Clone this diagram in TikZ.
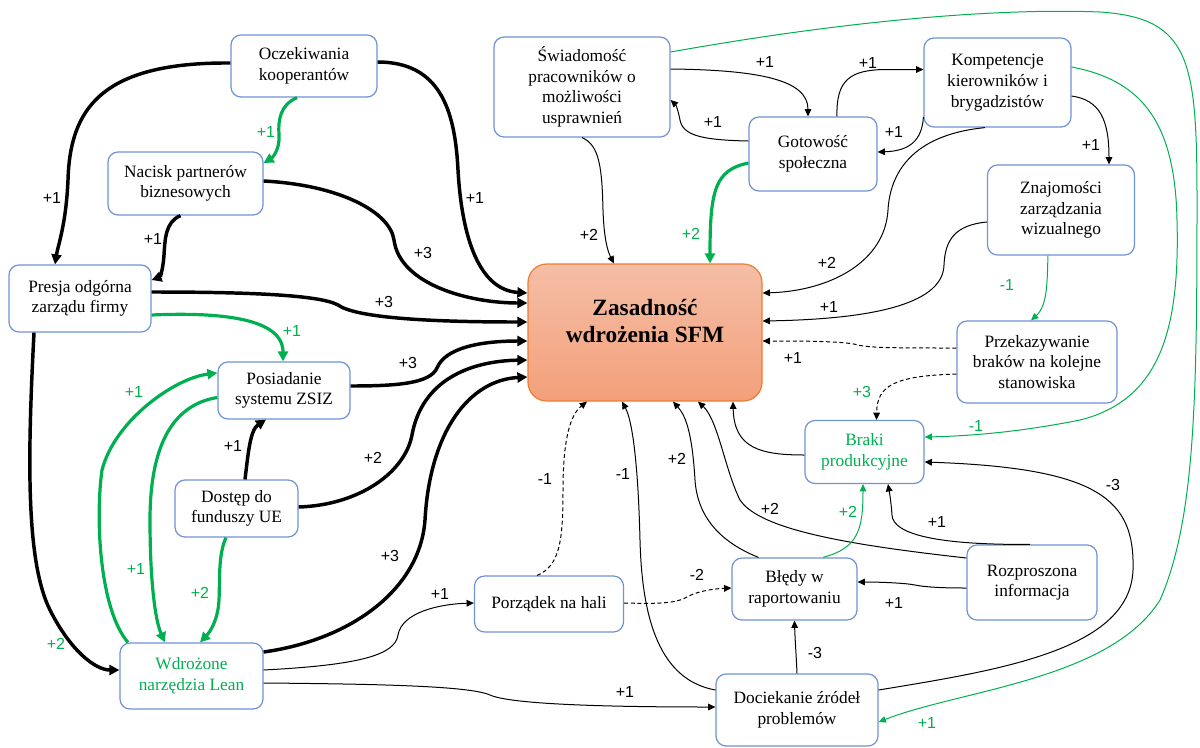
\documentclass[tikz,border=0pt]{standalone}
\usepackage{fontspec}
\setmainfont{Liberation Serif}
\newfontfamily\lblfont{Liberation Sans}
\usetikzlibrary{arrows.meta,calc}

\definecolor{boxblue}{RGB}{112,146,214}
\definecolor{lgreen}{RGB}{0,176,80}
\definecolor{sfmtop}{RGB}{245,190,166}
\definecolor{sfmbot}{RGB}{243,160,122}
\definecolor{sfmline}{RGB}{237,125,49}

\tikzset{
  box/.style={draw=boxblue, line width=0.9pt, rounded corners=7.5pt, fill=white,
    align=center, inner sep=2pt, font=\fontsize{13}{15.5}\selectfont},
  sz/.style 2 args={minimum width=#1*0.75pt, minimum height=#2*0.75pt},
  gtext/.style={text=lgreen},
  mainbox/.style={draw=sfmline, line width=0.9pt, rounded corners=14pt,
    top color=sfmtop, bottom color=sfmbot},
  maintext/.style={align=center, inner sep=0pt,
    font=\fontsize{17.5}{20.5}\selectfont\bfseries},
  blk3/.style={line width=2.6pt, -{Triangle[length=7.5pt,width=7.5pt]}},
  grn3/.style={draw=lgreen, line width=2.4pt, -{Triangle[length=7.5pt,width=7.5pt]}},
  blk1/.style={line width=0.75pt, -{Triangle[length=5.5pt,width=5pt]}},
  grn1/.style={draw=lgreen, line width=0.75pt, -{Triangle[length=5.5pt,width=5pt]}},
  dsh/.style={blk1, dash pattern=on 3pt off 2pt},
  lbl/.style={font=\lblfont\fontsize{12}{14}\selectfont, inner sep=0pt},
  glbl/.style={lbl, text=lgreen},
}

\begin{document}
\begin{tikzpicture}[x=0.75pt,y=-0.75pt]
\useasboundingbox (0,0) rectangle (1200,747);

% factor boxes
\node[box, sz={146}{62}]  (oc) at (304,66)    {Oczekiwania\\kooperantów};
\node[box, sz={155}{63}]  (np) at (185.5,183.5) {Nacisk partnerów\\biznesowych};
\node[box, sz={142}{67}]  (pr) at (80,298.5)  {Presja odgórna\\zarządu firmy};
\node[box, sz={132}{57}]  (ps) at (284,390.5) {Posiadanie\\systemu ZSIZ};
\node[box, sz={123}{57}]  (fu) at (236.5,508.5) {Dostęp do\\funduszy UE};
\node[box, gtext, sz={143}{66}] (wl) at (191.5,676) {Wdrożone\\narzędzia Lean};
\node[box, sz={176}{100}] (sw) at (582,87)    {Świadomość\\pracowników o\\możliwości\\usprawnień};
\node[box, sz={128}{74}]  (gs) at (813,154)   {Gotowość\\społeczna};
\node[box, sz={147}{89}]  (kb) at (997.5,82.5) {Kompetencje\\kierowników i\\brygadzistów};
\node[box, sz={147}{90}]  (zw) at (1061,210)  {Znajomości\\zarządzania\\wizualnego};
\node[box, sz={160}{82}]  (pk) at (1037,362)  {Przekazywanie\\braków na kolejne\\stanowiska};
\node[box, gtext, sz={119}{63}] (bp) at (864.5,452) {Braki\\produkcyjne};
\node[box, sz={149}{56}]  (ph) at (549,604)   {Porządek na hali};
\node[box, sz={125}{62}]  (br) at (794.5,589) {Błędy w\\raportowaniu};
\node[box, sz={130}{75}]  (ri) at (1032,582.5) {Rozproszona\\informacja};
\node[box, sz={162}{72}]  (dz) at (797,710)   {Dociekanie źródeł\\problemów};

% central outcome, title set a little above the middle
\node[mainbox, sz={234}{137}] (sfm) at (645,332.5) {};
\node[maintext] (sfmtitle) at (645,321) {Zasadność\\wdrożenia SFM};

% strong links (thick black)
\draw[blk3] ($(oc.west)+(0,-3)$) .. controls (100,62) and (70,110) .. (68,180) .. controls (66,225) and (58,245) .. ($(pr.north)+(-25,0)$);
\draw[blk3] ($(oc.east)+(0,-4)$) .. controls (440,62) and (455,110) .. (458,170) .. controls (462,240) and (480,290) .. ($(sfm.west)+(0,-39.5)$);
\draw[blk3] ($(np.east)+(0,-2.5)$) .. controls (340,185) and (390,212) .. (394,240) .. controls (400,285) and (470,303) .. ($(sfm.west)+(0,-29.5)$);
\draw[blk3] ($(np.south)+(-5,0)$) .. controls (165,222) and (165,240) .. (164,255) .. controls (163,270) and (160,277) .. ($(pr.east)+(0,-18.5)$);
\draw[blk3] ($(pr.east)+(0,-6.5)$) .. controls (250,292) and (320,295) .. (338,305) .. controls (355,317) and (420,322) .. ($(sfm.west)+(0,-10.5)$);
\draw[blk3] ($(ps.east)+(0,-4.5)$) .. controls (400,386) and (430,383) .. (437,368) .. controls (445,348) and (480,341) .. ($(sfm.west)+(0,8.5)$);
\draw[blk3] ($(fu.east)+(0,-1.5)$) .. controls (360,505) and (405,472) .. (412,435) .. controls (422,380) and (470,361) .. ($(sfm.west)+(0,27.5)$);
\draw[blk3] ($(wl.east)+(0,-24)$) .. controls (350,640) and (420,590) .. (425,520) .. controls (430,430) and (470,380) .. ($(sfm.west)+(0,44.5)$);
\draw[blk3] ($(fu.north)+(8.5,0)$) .. controls (248,455) and (250,430) .. ($(ps.south)+(-18,0)$);
\draw[blk3] ($(pr.south)+(-46,0)$) .. controls (28,450) and (25,560) .. (50,610) .. controls (70,650) and (95,670) .. ($(wl.west)+(0,-6)$);

% strong links (thick green)
\draw[grn3] ($(oc.south)+(-7,0)$) .. controls (280,105) and (278,120) .. (279,135) .. controls (280,150) and (272,158) .. ($(np.east)+(0,-20.5)$);
\draw[grn3] ($(pr.east)+(0,16.5)$) .. controls (220,312) and (283,318) .. ($(ps.north)+(-1,0)$);
\draw[grn3] ($(wl.north)+(-63.5,0)$) .. controls (100,610) and (95,520) .. (102,470) .. controls (115,420) and (175,378) .. ($(ps.west)+(0,-17.5)$);
\draw[grn3] ($(ps.west)+(0,7)$) .. controls (170,405) and (150,450) .. (150,520) .. controls (150,580) and (155,620) .. ($(wl.north)+(-26.5,0)$);
\draw[grn3] ($(fu.south)+(-10.5,0)$) .. controls (218,555) and (220,580) .. (219,600) .. controls (218,620) and (210,632) .. ($(wl.north)+(8.5,0)$);
\draw[grn3] ($(gs.west)+(0,9)$) .. controls (715,170) and (710,190) .. ($(sfm.north)+(65,0)$);

% weak links (thin)
\draw[blk1] (sw.south) .. controls (600,145) and (602,170) .. (603,210) .. controls (604,240) and (608,252) .. ($(sfm.north)+(-31,0)$);
\draw[blk1] ($(sw.east)+(0,-18)$) .. controls (760,70) and (808,80) .. ($(gs.north)+(-5,0)$);
\draw[blk1] ($(gs.west)+(0,-13)$) .. controls (700,140) and (683,135) .. (680,120) .. controls (678,110) and (676,105) .. ($(sw.east)+(0,13)$);
\draw[blk1] ($(gs.north)+(24,0)$) .. controls (836,80) and (850,70) .. (885,69.5) -- ($(kb.west)+(0,-13)$);
\draw[blk1] ($(kb.west)+(0,34.5)$) .. controls (922,140) and (910,151) .. ($(gs.east)+(0,-2)$);
\draw[blk1] ($(kb.east)+(0,13.5)$) .. controls (1100,100) and (1109,120) .. ($(zw.north)+(48,0)$);
\draw[blk1] ($(kb.south)+(-12.5,0)$) .. controls (910,135) and (890,175) .. (888,210) .. controls (885,262) and (830,291) .. ($(sfm.east)+(0,-39.5)$);
\draw[blk1] ($(zw.west)+(0,12)$) .. controls (955,225) and (945,240) .. (944,265) .. controls (943,302) and (880,319) .. ($(sfm.east)+(0,-11.5)$);
\draw[dsh] ($(pk.west)+(0,-14)$) .. controls (900,348) and (870,348) .. (858,345) .. controls (845,341) and (800,341) .. ($(sfm.east)+(0,8.5)$);
\draw[dsh] ($(pk.west)+(0,12)$) .. controls (895,376) and (877,385) .. ($(bp.north)+(12,0)$);
\draw[grn1] ($(zw.south)+(-13,0)$) .. controls (1047,280) and (1048,305) .. ($(pk.north)+(-6,0)$);
\draw[grn1] ($(sw.east)+(0,-35)$) .. controls (850,20) and (1000,8) .. (1100,12) .. controls (1190,18) and (1197,60) .. (1197,200) .. controls (1197,400) and (1195,520) .. (1160,600) .. controls (1110,680) and (960,690) .. ($(dz.east)+(0,12)$);
\draw[grn1] ($(kb.east)+(0,-15.5)$) .. controls (1140,80) and (1175,120) .. (1177,220) .. controls (1180,330) and (1160,400) .. (1080,420) .. controls (1020,432) and (970,436) .. ($(bp.east)+(0,-15)$);
\draw[blk1] ($(bp.west)+(0,3)$) .. controls (760,455) and (734,448) .. ($(sfm.south)+(88,0)$);
\draw[blk1] ($(br.north)+(-36,0)$) .. controls (715,540) and (697,512) .. (695,480) .. controls (692,430) and (685,415) .. ($(sfm.south)+(28,0)$);
\draw[blk1] ($(ri.west)+(0,-24.5)$) .. controls (850,545) and (760,530) .. (740,500) .. controls (725,470) and (718,420) .. ($(sfm.south)+(53,0)$);
\draw[blk1] ($(dz.west)+(0,-20)$) .. controls (660,680) and (642,620) .. (640,540) .. controls (638,460) and (632,420) .. ($(sfm.south)+(-23,0)$);
\draw[dsh] ($(ph.north)+(-12,0)$) .. controls (560,566) and (563,540) .. (563,490) .. controls (563,440) and (570,415) .. ($(sfm.south)+(-58,0)$);
\draw[dsh] ($(ph.east)+(0,-1)$) .. controls (660,604) and (675,603) .. (685,598) .. controls (695,592) and (710,589) .. ($(br.west)+(0,-1)$);
\draw[blk1] ($(wl.east)+(0,-6)$) .. controls (360,665) and (395,655) .. (398,635) .. controls (402,612) and (440,604) .. ($(ph.west)+(0,-1)$);
\draw[blk1] ($(wl.east)+(0,7)$) .. controls (380,684) and (470,686) .. (490,695) .. controls (510,704) and (600,707) .. ($(dz.west)+(0,-3)$);
\draw[blk1] (dz.north) .. controls (796,650) and (795,640) .. (br.south);
\draw[blk1] ($(ri.west)+(0,5.5)$) .. controls (940,588) and (925,587) .. (915,585) .. controls (905,583) and (880,582) .. ($(br.east)+(0,-7)$);
\draw[blk1] ($(ri.north)+(-2,0)$) .. controls (940,545) and (893,535) .. (892,515) .. controls (891,500) and (889,490) .. ($(bp.south)+(23.5,0)$);
\draw[grn1] ($(br.north)+(28.5,0)$) .. controls (858,548) and (863,530) .. ($(bp.south)+(-1.5,0)$);
\draw[blk1] ($(dz.east)+(0,-20)$) .. controls (1000,670) and (1130,650) .. (1133,570) .. controls (1135,500) and (1100,468) .. ($(bp.east)+(0,10)$);

% link weights
\node[lbl]  (w01) at (52,198)   {+1};
\node[lbl]  (w02) at (475,198)  {+1};
\node[lbl]  (w03) at (423,253)  {+3};
\node[lbl]  (w04) at (153,239)  {+1};
\node[lbl]  (w05) at (384,302)  {+3};
\node[lbl]  (w06) at (408,363)  {+3};
\node[lbl]  (w07) at (373,458)  {+2};
\node[lbl]  (w08) at (390,556)  {+3};
\node[lbl]  (w09) at (233,446)  {+1};
\node[glbl] (w10) at (56,644)   {+2};
\node[glbl] (w11) at (266,132)  {+1};
\node[glbl] (w12) at (292,331)  {+1};
\node[glbl] (w13) at (134,392)  {+1};
\node[glbl] (w14) at (136,569)  {+1};
\node[glbl] (w15) at (200,593)  {+2};
\node[glbl] (w16) at (691,234)  {+2};
\node[lbl]  (w17) at (589,235)  {+2};
\node[lbl]  (w18) at (765,62)   {+1};
\node[lbl]  (w19) at (713,122)  {+1};
\node[lbl]  (w20) at (868,63)   {+1};
\node[lbl]  (w21) at (894,132)  {+1};
\node[lbl]  (w22) at (1091,145) {+1};
\node[lbl]  (w23) at (827,263)  {+2};
\node[lbl]  (w24) at (829,307)  {+1};
\node[lbl]  (w25) at (793,358)  {+1};
\node[glbl] (w26) at (862,392)  {+3};
\node[glbl] (w27) at (1007,285) {-1};
\node[glbl] (w28) at (927,723)  {+1};
\node[glbl] (w29) at (976,426)  {-1};
\node[lbl]  (w30) at (677,459)  {+2};
\node[lbl]  (w31) at (770,509)  {+2};
\node[lbl]  (w32) at (545,479)  {-1};
\node[lbl]  (w33) at (623,474)  {-1};
\node[lbl]  (w34) at (697,575)  {-2};
\node[lbl]  (w35) at (440,594)  {+1};
\node[lbl]  (w36) at (625,692)  {+1};
\node[lbl]  (w37) at (815,653)  {-3};
\node[lbl]  (w38) at (894,603)  {+1};
\node[lbl]  (w39) at (937,522)  {+1};
\node[glbl] (w40) at (848,512)  {+2};
\node[lbl]  (w41) at (1113,485) {-3};
\end{tikzpicture}
\end{document}
